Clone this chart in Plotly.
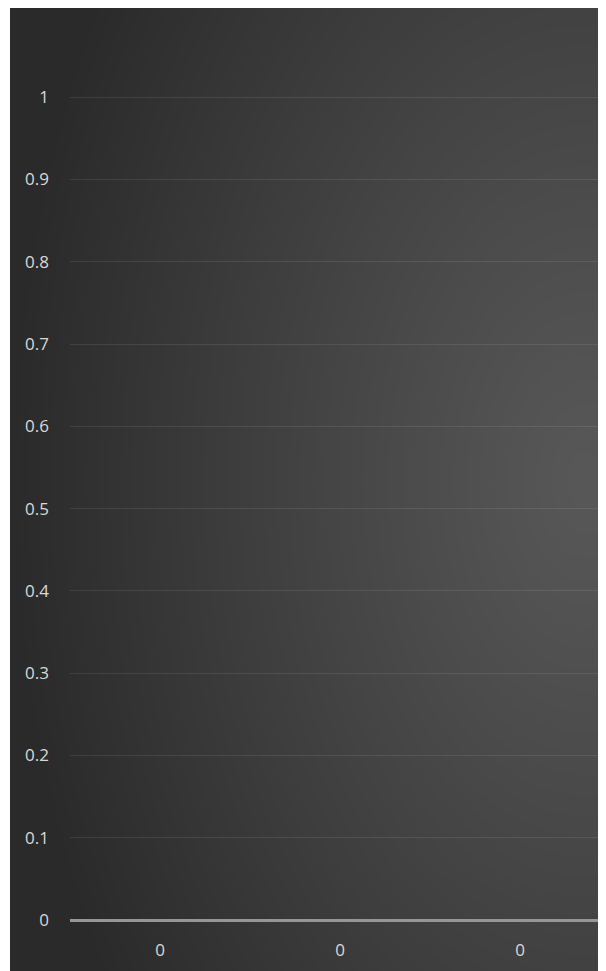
import base64
import struct
import zlib

import numpy as np
import plotly.graph_objects as go

# ---- data ----
categories = [0, 1, 2]
category_labels = ["0", "0", "0"]
values = [0, 0, 0]
y_ticks = [0, 0.1, 0.2, 0.3, 0.4, 0.5, 0.6, 0.7, 0.8, 0.9, 1]
y_tick_labels = ["0", "0.1", "0.2", "0.3", "0.4", "0.5", "0.6", "0.7", "0.8", "0.9", "1"]

# ---- figure geometry (page has an 8px body margin) ----
FW, FH = 598, 963
UNIT = 823                 # px per 1.0 on the y axis
PL, PR = 62, 595
PB = 912                   # y = 0
YMAX = 1.05
PT = PB - int(round(UNIT * YMAX))
pw, ph = PR - PL, PB - PT

# ---- background gradient image (styling only) ----
IX0, IY0 = 2, -2
W, H = 593, 965
cx, cy = 575, 474
yy, xx = np.mgrid[0:H, 0:W].astype(float)
r = np.sqrt((xx - cx) ** 2 + ((yy - cy) / 1.6) ** 2)
t = np.clip(r / 580.0, 0, 1)
v = (42 + 46 * (1 - t ** 1.1)).astype(np.uint8)


def png_gray(arr):
    h, w = arr.shape
    raw = b"".join(b"\x00" + arr[i].tobytes() for i in range(h))

    def chunk(tag, data):
        c = struct.pack(">I", len(data)) + tag + data
        return c + struct.pack(">I", zlib.crc32(tag + data) & 0xFFFFFFFF)

    return (b"\x89PNG\r\n\x1a\n"
            + chunk(b"IHDR", struct.pack(">IIBBBBB", w, h, 8, 0, 0, 0, 0))
            + chunk(b"IDAT", zlib.compress(raw, 9))
            + chunk(b"IEND", b""))


bg_uri = "data:image/png;base64," + base64.b64encode(png_gray(v)).decode()

fig = go.Figure()
fig.add_trace(go.Bar(x=categories, y=values, marker=dict(color="#5b9bd5", line=dict(width=0)),
                     width=0.6, showlegend=False, hoverinfo="skip"))

fig.update_layout(
    width=FW, height=FH,
    margin=dict(l=PL, r=FW - PR, t=PT, b=FH - PB, pad=0),
    paper_bgcolor="white",
    plot_bgcolor="rgba(0,0,0,0)",
    images=[dict(source=bg_uri, xref="paper", yref="paper",
                 x=(IX0 - PL) / pw, y=(PB - IY0) / ph,
                 sizex=W / pw, sizey=H / ph,
                 xanchor="left", yanchor="top", sizing="stretch", layer="below")],
    font=dict(family="Open Sans, Liberation Sans, sans-serif", size=17, color="#d9d9d9"),
    xaxis=dict(range=[-0.5, 2.5 - 7 / 180], tickmode="array", tickvals=categories,
               ticktext=category_labels, showgrid=False, zeroline=False,
               showline=False, ticks="", ticklabelstandoff=18,
               tickfont=dict(size=17, color="#d9d9d9")),
    yaxis=dict(range=[0, YMAX], tickmode="array", tickvals=y_ticks, ticktext=y_tick_labels,
               showgrid=True, gridcolor="rgba(255,255,255,0.09)", gridwidth=1,
               zeroline=True, zerolinecolor="#969696", zerolinewidth=3,
               showline=False, ticks="", ticklabelstandoff=20,
               tickfont=dict(size=17, color="#d9d9d9")),
)

fig.write_html("out.html")
